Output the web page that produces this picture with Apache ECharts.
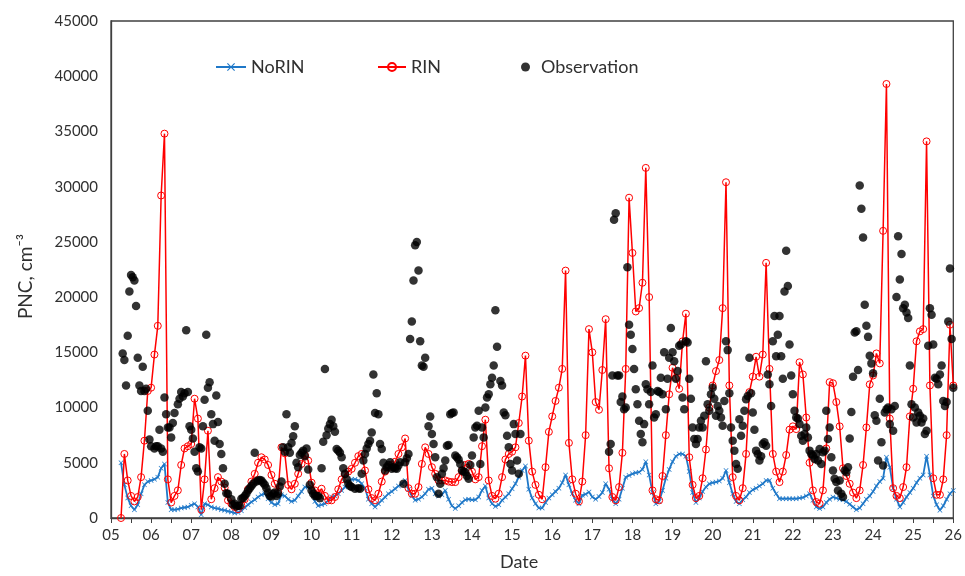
<!DOCTYPE html>
<html><head><meta charset="utf-8">
<script src="https://cdn.jsdelivr.net/npm/echarts@6/dist/echarts.min.js"></script>
<style>html,body{margin:0;padding:0;background:#fff}#c{width:965px;height:576px}</style>
</head><body><div id="c"></div>
<script>
// Model output: every 2 hours, starting at hour 6 of day 05
const startHour = 6;
const stepHours = 2;
const dayLabels = ['05','06','07','08','09','10','11','12','13','14','15','16','17','18','19','20','21','22','23','24','25','26'];

const rin = [
  0, 5800, 3400, 2000, 1500, 1900, 3700, 7000, 11500,
  11800, 14800, 17400, 29200, 34800, 3500, 1400, 2000, 2500, 4800, 6300, 6500,
  6700, 10800, 9000, 750, 3500, 7900, 1700, 2700, 3700, 3300, 2750, 1600,
  1300, 1000, 800, 1150, 1700, 2600, 3300, 4000, 5000, 5500, 5300, 4800,
  3900, 3100, 2400, 6400, 5860, 3000, 2600, 3100, 4000, 4900, 5700, 5200,
  3200, 2500, 2250, 2650, 2000, 1600, 1600, 1900, 2600, 3500, 3950, 4200,
  4450, 5000, 5600, 5800, 4300, 2600, 1800, 1600, 2200, 3300, 4200, 4600,
  4800, 5100, 5800, 6400, 7200, 2700, 2200, 2200, 2800, 4900, 6400, 5800,
  4600, 4000, 3400, 3400, 3400, 3300, 3250, 3250, 3700, 4300, 4800, 4900,
  4200, 3500, 3700, 6500, 8900, 3400, 2000, 1750, 2200, 3700, 5300, 5800,
  6000, 6400, 8600, 11000, 14700, 7000, 4200, 3000, 2100, 1700, 4600, 7800,
  9200, 10600, 11800, 13500, 22400, 6800, 3500, 2200, 1500, 3300, 7500, 17100,
  15000, 10500, 9800, 13400, 18000, 4500, 1900, 1600, 2800, 5900, 13500, 29000,
  24000, 18700, 19000, 21300, 31700, 20000, 2500, 1700, 1600, 3800, 7500, 11200,
  13600, 12700, 11700, 16000, 18500, 5500, 3000, 1800, 2000, 3600, 6200, 10000,
  12000, 13300, 14300, 19000, 30400, 12000, 3700, 2000, 1600, 2700, 5800, 11400,
  12800, 14600, 12800, 14800, 23100, 13500, 5800, 4200, 3250, 4200, 5700, 8000,
  8300, 8050, 14100, 13000, 9100, 5000, 2500, 1450, 1300, 2500, 6300, 12300,
  12200, 10500, 8300, 4500, 3800, 3100, 2300, 1800, 2500, 4800, 8200, 12100,
  12900, 14900, 14000, 26000, 39300, 9000, 2700, 2000, 1800, 2800, 4600, 9200,
  11700, 16000, 16900, 17100, 34100, 12000, 3600, 2100, 2100, 3500, 7500, 17500,
  12000
];

const norin = [
  5000, 3000, 1800, 1100, 750, 1200, 2200, 3000, 3300,
  3400, 3500, 3700, 4500, 4900, 1400, 750, 750, 800, 900, 950, 1000,
  1150, 1300, 1000, 300, 1300, 1200, 1000, 900, 850, 750, 700, 600,
  550, 450, 500, 650, 950, 1200, 1450, 1650, 1900, 2100, 2200, 1750,
  1400, 1200, 1300, 2100, 2000, 1700, 1500, 1600, 2000, 2400, 2800, 2800,
  2400, 1500, 1100, 1200, 1300, 1600, 1900, 2000, 2200, 2500, 2800, 3200,
  3500, 3500, 3400, 3100, 2700, 1700, 1300, 1000, 1300, 1600, 1900, 2200,
  2400, 2650, 2900, 3100, 3400, 2600, 2000, 1600, 1700, 1900, 2200, 2600,
  2700, 2200, 2000, 2100, 2500, 1700, 1100, 850, 1100, 1400, 1650, 1700,
  1650, 1650, 1900, 2500, 2900, 1800, 1300, 1050, 1200, 1600, 1900, 2200,
  2650, 3100, 3700, 4300, 4700, 2600, 1800, 1300, 900, 900, 1400, 1800,
  2100, 2400, 2700, 3200, 3900, 3000, 2200, 1600, 1300, 2050, 2150, 2350,
  1900, 1700, 1950, 2300, 3100, 2600, 1700, 1300, 1700, 2700, 3700, 3850,
  4000, 4100, 4150, 4400, 5100, 3900, 2300, 1300, 1500, 2500, 3600, 4400,
  5100, 5600, 5800, 5800, 5600, 4200, 2300, 1400, 1800, 2400, 2800, 3100,
  3200, 3250, 3350, 3600, 4300, 3200, 2200, 1500, 1300, 1650, 1900, 2300,
  2550, 2700, 2900, 3100, 3400, 3400, 2700, 2200, 1750, 1750, 1750, 1750,
  1750, 1750, 1800, 1850, 2000, 2200, 1600, 1000, 850, 1000, 1400, 1700,
  1900, 1800, 1700, 1650, 1500, 1250, 1000, 750, 900, 1300, 1700, 2000,
  2400, 2900, 3300, 3600, 5500, 4600, 2700, 1700, 1000, 1400, 1900, 2300,
  2700, 3200, 3600, 3900, 5600, 3900, 2000, 1200, 700, 1100, 1700, 2200,
  2500
];

// Observations: hour since day 05 00:00, and value
const obsHour = [
  7,8,9,10,11,12,13,14,15,16,17,18,19,20,21,22,23,24,26,27,28,29,30,31,32,33,34,35,36,37,38,40,41,42,43,44,45,46,47,48,49,50,
  51,52,53,54,55,56,57,58,59,60,61,62,63,64,65,66,67,68,69,70,72,73,74,75,76,77,78,79,80,81,82,83,84,85,86,87,88,89,90,
  91,92,93,94,95,96,97,98,99,100,101,102,103,104,105,106,107,108,109,110,111,112,113,114,115,116,117,118,119,120,
  121,122,123,124,125,126,127,128,129,130,131,132,133,134,135,136,137,138,139,140,141,142,143,144,146,148,149,150,
  151,152,153,154,155,156,157,158,159,160,161,162,163,164,165,166,167,168,169,170,171,172,173,175,176,177,178,179,180,
  181,182,183,184,185,186,187,188,190,191,192,193,194,195,196,197,198,199,200,201,202,203,204,205,206,207,208,209,210,
  211,212,213,214,215,216,217,218,219,220,221,222,223,224,225,226,227,228,229,230,231,233,234,235,236,237,238,239,240,
  241,242,243,244,245,
  298,299,300,301,302,303,304,305,306,307,308,309,310,311,312,313,314,315,316,317,318,319,320,
  321,322,323,324,325,326,327,328,329,330,331,332,333,334,335,336,337,338,339,340,341,342,343,344,345,346,347,348,349,350,
  351,352,353,354,355,356,357,358,359,360,361,362,363,364,365,366,367,368,369,370,371,372,373,374,375,376,377,378,379,380,
  381,382,383,384,385,386,387,388,389,390,391,392,393,394,395,396,397,398,399,400,401,402,403,404,405,406,407,408,409,410,
  411,412,413,414,415,416,417,418,419,420,421,422,423,424,425,426,427,428,429,430,431,432,433,434,435,436,437,438,439,440,
  441,442,443,444,445,446,447,448,449,450,451,452,453,454,455,456,457,458,459,460,461,462,463,464,465,466,467,468,469,470,
  471,472,473,474,475,476,477,478,479,480,481,482,483,484,485,486,487,488,489,490,491,492,493,494,495,496,497,498,499,500,
  501,502,503,504
];
const obsValue = [
  14900,14300,12000,16500,20500,22000,21800,21500,19200,14500,12000,11500,13700,11500,11700,9700,7100,6500,6300,6500,6500,8000,6300,6000,10900,9400,8200,8200,7300,8600,9500,10300,10800,11400,11000,11300,17000,11400,8300,8000,7200,6000,
  4500,4200,6400,6300,8300,10700,16600,11800,12300,9400,8500,7000,11100,8700,6700,5800,4500,3100,2250,2200,1700,1200,1300,1050,1100,1100,1750,1800,2000,2200,2500,2700,2900,3100,5900,3300,3400,3450,3400,
  3200,3000,2700,2300,2000,1950,2200,2300,2000,2200,2850,3300,6400,6000,9400,6400,5900,6800,7400,8300,5000,4600,5700,5900,6100,5600,6300,4400,3000,2500,
  2200,2000,2000,2000,1800,4500,6900,13500,7500,8100,8500,8900,8300,7800,6250,6100,5900,5500,4500,4000,3500,3100,2900,2800,2650,2700,2650,4000,
  5200,5800,6300,6700,7000,7750,13000,9500,11300,9400,6700,6250,5000,4300,4600,4800,5050,4450,4600,4500,4450,4750,5050,3100,5050,5400,5800,16200,17800,
  21500,24700,25000,22400,16000,13800,13700,14500,8300,9200,7600,6700,5500,3700,2200,3100,4000,4500,5200,6550,6600,9400,9500,9550,5650,5500,5300,4900,4300,
  4200,4150,3800,3550,4800,5650,7300,8200,8350,9700,4900,8200,7300,10000,10900,11200,12100,12700,13800,18800,15500,12400,12000,9550,9300,7450,6400,4900,4300,
  8500,7600,5200,4000,7600,
  6000,6700,12900,27000,27600,12900,12900,10500,11000,9850,10000,22700,17500,16600,15300,13500,11650,10300,8800,7600,6850,8500,12100,
  11650,10300,11400,13800,9100,9400,11500,11400,12700,11200,15000,9850,12600,14500,17200,15000,14200,12600,13300,15600,15700,10900,9850,16000,15900,12600,10800,8200,7150,6700,
  7150,8200,8800,8200,9250,14200,10300,9700,11200,11800,10800,9250,10150,9700,9100,8350,10600,16000,15200,11300,8200,7000,6100,4900,4450,8950,7450,8350,9700,10750,
  11050,14500,11300,9550,8000,6100,5800,5200,5600,6700,6850,6550,13000,12100,10150,16000,18300,14650,16600,18300,14650,12600,20500,24200,21000,15700,12900,11200,9700,9100,
  9000,8500,7450,7000,7600,8200,7300,6100,5800,5650,5350,5800,5200,6250,4900,5950,6100,9700,7150,8200,5500,4300,3550,3250,2500,3400,2200,1900,4300,4150,
  4600,7200,9600,12800,16800,16900,13400,30100,28000,25400,19300,17400,16400,14700,14000,13100,9300,8800,5200,10800,6850,4750,9550,9850,10000,8500,9850,7900,10150,20000,
  25500,21600,23900,19000,19300,18600,18100,13800,10300,9100,10000,8650,9550,9250,8650,9000,7600,7900,15600,19000,18400,15700,12700,12600,12100,13000,13800,10600,10150,10500,
  17800,22600,16200,11800
];

const FONT = 'Lato, "Liberation Sans", sans-serif';
const TXT = '#303030';
const toDay = h => 5 + h / 24;
const modelPoints = arr => arr.map((v, i) => [toDay(startHour + i * stepHours), v]);
const obsPoints = obsHour.map((h, i) => [toDay(h), obsValue[i]]);

const xSymbol = 'path://M0,1L1,0L5,4L9,0L10,1L6,5L10,9L9,10L5,6L1,10L0,9L4,5Z';
const blue = '#1f78c8';
const red = '#ff0000';

const chart = echarts.init(document.getElementById('c'), null, {renderer: 'canvas'});
chart.setOption({
  animation: false,
  backgroundColor: '#ffffff',
  grid: {left: 111, top: 21, right: 8, bottom: 55, show: true, borderColor: '#404040', borderWidth: 1.3, containLabel: false},
  xAxis: {
    type: 'value', min: 5, max: 26, interval: 0.5,
    name: 'Date', nameLocation: 'middle', nameGap: 35,
    nameTextStyle: {fontSize: 18, color: TXT, fontFamily: FONT, padding: [0, 26, 0, 0]},
    axisLine: {show: true, lineStyle: {color: '#404040', width: 1.3}},
    axisTick: {show: true, inside: false, length: 5, lineStyle: {color: '#404040', width: 1}},
    axisLabel: {
      formatter: v => (Math.abs(v - Math.round(v)) < 1e-6 ? dayLabels[Math.round(v) - 5] : ''),
      fontSize: 15, color: TXT, margin: 10, fontFamily: FONT, showMinLabel: true, showMaxLabel: true, hideOverlap: false
    },
    splitLine: {show: false}
  },
  yAxis: {
    type: 'value', min: 0, max: 45000, interval: 5000,
    name: 'PNC, cm⁻³', nameLocation: 'middle', nameGap: 76, nameRotate: 90,
    nameTextStyle: {fontSize: 19, color: TXT, fontFamily: FONT, padding: [0, 14, 0, 0]},
    axisLine: {show: true, lineStyle: {color: '#404040', width: 1.3}},
    axisTick: {show: false},
    axisLabel: {fontSize: 15, color: TXT, margin: 13, fontFamily: FONT, formatter: v => String(v)},
    splitLine: {show: false}
  },
  legend: [
    {data: ['NoRIN'], left: 210, top: 53, itemWidth: 30, itemHeight: 10, textStyle: {fontSize: 18, color: TXT, fontFamily: FONT}},
    {data: ['RIN'], left: 372, top: 53, itemWidth: 28, itemHeight: 10, textStyle: {fontSize: 18, color: TXT, fontFamily: FONT}},
    {data: ['Observation'], left: 516, top: 53, icon: 'circle', itemWidth: 9, itemHeight: 9, textStyle: {fontSize: 18, color: TXT, fontFamily: FONT, padding: [0, 0, 0, 6]}}
  ],
  series: [
    {
      name: 'NoRIN', type: 'line', data: modelPoints(norin),
      symbol: xSymbol, symbolSize: 5, showSymbol: true,
      lineStyle: {color: blue, width: 1.8}, itemStyle: {color: blue}, z: 2
    },
    {
      name: 'RIN', type: 'line', data: modelPoints(rin),
      symbol: 'circle', symbolSize: 7, showSymbol: true,
      lineStyle: {color: red, width: 1.5},
      itemStyle: {color: 'rgba(255,255,255,0)', borderColor: red, borderWidth: 1}, z: 3
    },
    {
      name: 'Observation', type: 'scatter', data: obsPoints,
      symbol: 'circle', symbolSize: 8.5, itemStyle: {color: '#000000'}, z: 4
    }
  ]
});
</script>
</body></html>
